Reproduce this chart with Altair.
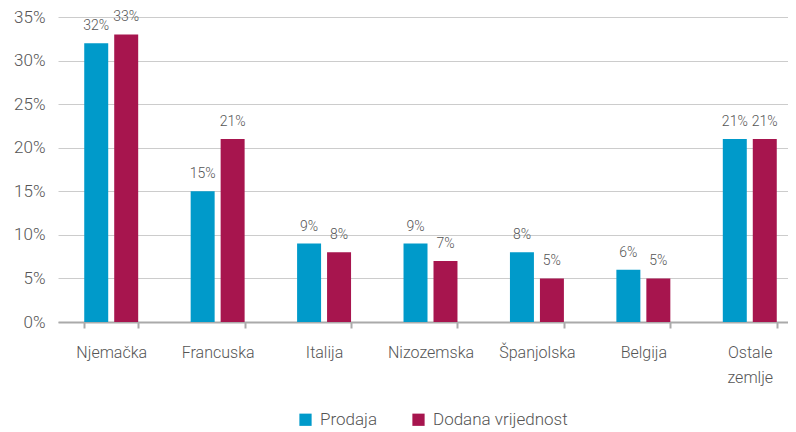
import altair as alt
import pandas as pd

countries = ["Njemačka", "Francuska", "Italija", "Nizozemska", "Španjolska", "Belgija", "Ostale zemlje"]
series = ["Prodaja", "Dodana vrijednost"]
prodaja = [32, 15, 9, 9, 8, 6, 21]
dodana = [33, 21, 8, 7, 5, 5, 21]
colors = ["#009ACA", "#A7154E"]

rows = []
for c, p, d in zip(countries, prodaja, dodana):
    rows.append({"zemlja": c, "serija": series[0], "vrijednost": p})
    rows.append({"zemlja": c, "serija": series[1], "vrijednost": d})
df = pd.DataFrame(rows)

FONT = "Roboto"
GREY = "#555555"

x = alt.X(
    "zemlja:N",
    sort=countries,
    title=None,
    scale=alt.Scale(range=[0, 745], paddingInner=0.493, paddingOuter=0.2465),
    axis=alt.Axis(
        labelAngle=0,
        labelFont=FONT,
        labelFontSize=16,
        labelFontWeight=300,
        labelColor=GREY,
        labelPadding=16,
        labelLineHeight=25,
        labelExpr="datum.label == 'Ostale zemlje' ? ['Ostale', 'zemlje'] : datum.label",
        tickBand="extent",
        tickSize=6,
        tickColor="#aaaaaa",
        tickWidth=2,
        domainColor="#aaaaaa",
        domainWidth=2,
        grid=False,
    ),
)
xoff = alt.XOffset("serija:N", sort=series, scale=alt.Scale(paddingInner=0.2, paddingOuter=0))
y = alt.Y(
    "vrijednost:Q",
    title=None,
    scale=alt.Scale(domain=[0, 35], nice=False),
    axis=alt.Axis(
        values=[0, 5, 10, 15, 20, 25, 30, 35],
        labelExpr="datum.value + '%'",
        labelFont=FONT,
        labelFontSize=17,
        labelFontWeight=300,
        labelColor=GREY,
        labelPadding=13,
        domain=False,
        ticks=False,
        gridColor="#cccccc",
        gridWidth=1,
    ),
)

bars = alt.Chart(df).mark_bar().encode(
    x=x,
    xOffset=xoff,
    y=y,
    color=alt.Color(
        "serija:N",
        sort=series,
        scale=alt.Scale(domain=series, range=colors),
        legend=alt.Legend(
            title=None,
            orient="none",
            direction="horizontal",
            legendX=239,
            legendY=394,
            symbolType="square",
            symbolSize=150,
            symbolStrokeWidth=0,
            symbolOpacity=1,
            labelFont=FONT,
            labelFontSize=17,
            labelFontWeight=300,
            labelColor=GREY,
            columnPadding=32,
            labelOffset=6,
        ),
    ),
)

labels = alt.Chart(df).mark_text(
    font=FONT, fontSize=14, fontWeight=300, color=GREY, baseline="alphabetic", dy=-13
).transform_calculate(
    txt="datum.vrijednost + '%'"
).encode(
    x=x,
    xOffset=xoff,
    y=y,
    text="txt:N",
)

chart = (bars + labels).properties(
    width=730,
    height=305,
    padding={"left": 50, "top": 9, "right": 0, "bottom": 110},
    autosize=alt.AutoSizeParams(type="none"),
).configure_view(stroke=None)

chart.save("out.html", embed_options={"renderer": "svg", "actions": False})
